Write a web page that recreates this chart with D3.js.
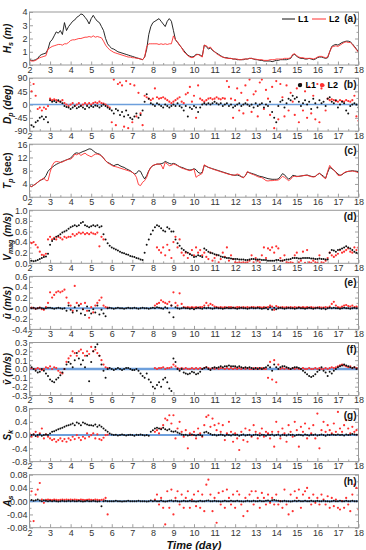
<!DOCTYPE html>
<html><head><meta charset="utf-8">
<script src="https://cdn.jsdelivr.net/npm/d3@7"></script>
<style>body{margin:0;background:#fff}svg{display:block}text{font-family:"Liberation Sans",Arial,sans-serif}</style>
</head><body><svg id="c" width="366" height="550"></svg>
<script>
// sampling: day 2.0 to 18.0 every 0.1 day
const T_START = 2, T_STEP = 0.1;
const X_TICKS = [2,3,4,5,6,7,8,9,10,11,12,13,14,15,16,17,18];

// (a) Hs (m)
const HS_L1 = [
0.4,0.35,0.35,0.4,0.5,0.7,0.8,0.85,0.9,1.2,
1.75,1.9,2.2,2.5,2.4,2.6,2.3,3.2,2.6,2.9,
3.1,3.3,3.4,3.6,3.7,3.85,3.8,3.6,3.4,3.1,
3.5,3.75,3.5,3.3,3.2,2.9,2.6,2.0,1.6,1.4,
1.25,1.2,1.1,1.0,0.95,0.9,0.85,0.8,0.75,0.7,
0.65,0.6,0.55,0.5,0.45,0.4,0.6,1.2,2.3,2.9,
3.2,3.3,3.4,3.5,3.3,3.1,2.9,3.3,3.5,3.3,
2.6,1.9,1.7,1.5,1.3,1.1,0.9,0.75,0.65,0.6,
0.65,0.8,0.8,0.75,0.65,1.5,1.4,1.2,1.3,1.1,
1.0,0.9,0.8,0.7,0.6,0.55,0.55,0.5,0.5,0.45,
0.45,0.4,0.4,0.4,0.4,0.45,0.45,0.5,0.5,0.45,
0.4,0.4,0.35,0.35,0.3,0.3,0.3,0.3,0.25,0.3,
0.35,0.35,0.4,0.4,0.4,0.4,0.45,0.5,0.75,0.8,
0.65,0.55,0.5,0.5,0.45,0.45,0.5,0.45,0.4,0.45,
0.55,0.6,0.6,0.55,0.5,0.55,1.0,1.4,1.5,1.55,
1.5,1.6,1.7,1.75,1.8,1.8,1.75,1.6,1.4,1.2,
1.0];
const HS_L2 = [
0.35,0.3,0.3,0.35,0.45,0.55,0.6,0.65,0.7,1.2,
1.3,1.4,1.45,1.5,1.55,1.55,1.5,1.6,1.6,1.7,
1.85,1.9,1.9,1.95,2.0,2.0,2.05,2.1,2.1,2.15,
2.1,2.2,2.1,2.15,2.1,2.05,1.8,1.5,1.3,1.15,
1.05,0.95,0.9,0.85,0.8,0.75,0.7,0.65,0.6,0.6,
0.55,0.55,0.5,0.5,0.45,0.4,0.6,1.4,1.6,1.6,
1.6,1.6,1.6,1.55,1.6,1.55,1.6,1.55,1.6,1.6,
2.2,1.9,1.75,1.5,1.3,1.0,0.85,0.7,0.6,0.55,
0.6,0.75,0.8,0.7,0.6,1.5,1.45,1.3,1.35,1.15,
1.0,0.85,0.75,0.65,0.6,0.55,0.5,0.5,0.5,0.45,
0.45,0.45,0.4,0.4,0.45,0.45,0.45,0.5,0.5,0.45,
0.45,0.4,0.4,0.4,0.35,0.35,0.35,0.4,0.4,0.4,
0.45,0.45,0.45,0.45,0.5,0.5,0.5,0.55,0.8,0.85,
0.7,0.6,0.55,0.55,0.5,0.5,0.5,0.5,0.45,0.5,
0.6,0.65,0.65,0.6,0.55,0.6,1.0,1.35,1.4,1.45,
1.4,1.5,1.6,1.7,1.75,1.7,1.7,1.55,1.35,1.15,
0.95];

// (b) Dp (deg)
const DP_L1 = [
-20,-70,-75,-60,-55,-45,-40,-50,-42,-60,
15,10,12,8,15,10,5,-5,-8,-10,
-15,-10,-5,-12,-8,-5,-10,-15,-5,-10,
-5,-8,-3,-5,-10,-5,0,-5,-10,-15,
-20,-30,-15,-20,-35,-25,-40,-20,-35,-45,
-50,-40,-30,-45,-35,-20,10,35,20,5,
0,-5,5,0,-5,-10,0,-5,-10,-5,
0,-5,5,-5,-10,-20,-5,-40,-10,-15,
-5,-10,-25,-10,0,5,0,5,0,5,
10,5,0,5,-5,0,5,-5,0,-10,
-5,0,5,-5,0,5,0,-5,0,-10,
5,-5,0,5,-10,0,-5,10,-25,-45,
-60,-5,10,15,-10,5,20,15,30,20,
25,10,-5,5,15,0,10,-15,20,5,
-10,15,5,10,-5,20,25,10,5,15,
-10,0,10,5,-20,-30,-5,0,5,0,
-10];
const DP_L2 = [
75,45,70,30,-15,-10,-20,-10,-15,-5,
20,15,18,15,12,10,15,5,0,-5,
0,5,-5,0,5,-3,0,5,0,5,
0,5,8,5,10,5,3,0,-5,-10,
-60,85,-70,70,75,65,-75,80,-80,70,
-60,65,-40,40,-30,-70,30,25,20,15,
20,55,25,20,22,25,20,15,10,5,
10,15,20,25,10,5,35,40,60,10,
30,-45,65,20,15,10,15,20,22,18,
20,25,20,18,22,20,80,60,20,-45,
15,55,-20,40,-30,65,15,85,-25,35,
45,-40,75,85,-15,50,20,-35,60,-80,
80,-50,70,25,-40,65,-20,40,10,-35,
55,-60,70,-20,45,-45,60,-30,30,-50,
70,-60,55,65,-20,20,15,18,15,12,
10,15,12,10,15,12,10,15,30,-40,
-55];

// (c) Tp (sec)
const TP_L1 = [
3.5,3.2,3.6,4.0,4.5,5.0,5.3,5.6,6.5,7.8,
8.5,9.0,9.5,9.9,10.2,10.5,10.8,11.0,11.3,11.5,
11.8,12.5,13.2,13.4,13.2,13.5,13.8,14.0,14.3,14.6,
14.5,14.0,13.5,13.2,13.0,12.5,11.8,11.0,10.5,10.2,
9.8,9.5,9.8,9.9,9.5,9.2,9.0,8.6,8.3,8.0,
7.5,7.0,7.2,8.0,7.8,6.5,5.5,6.5,8.0,9.0,
9.5,9.8,10.0,10.0,10.1,10.3,10.8,10.5,10.2,10.0,
10.2,10.0,9.6,9.2,9.0,8.8,8.5,8.3,8.2,8.3,
8.6,8.3,7.5,7.2,7.5,9.6,9.3,9.0,8.8,8.6,
8.4,8.2,8.0,7.8,7.6,7.4,7.2,7.0,6.8,6.7,
6.6,6.7,6.5,6.2,6.0,6.5,7.6,7.4,7.2,7.0,
6.8,6.5,6.3,6.2,6.0,5.8,5.6,5.5,5.4,5.4,
5.4,5.5,6.2,7.1,6.8,6.0,5.5,5.8,6.6,6.5,
6.3,6.3,6.4,6.5,6.6,6.7,6.5,6.3,6.2,6.3,
6.8,7.2,6.8,6.3,5.7,7.5,9.0,8.6,8.2,7.6,
7.0,6.6,6.8,7.3,7.6,7.8,7.9,8.0,7.9,7.8,
7.6];
const TP_L2 = [
3.5,3.2,3.6,4.0,4.5,5.0,5.4,5.8,5.0,5.0,
7.5,9.5,10.5,10.8,10.7,10.5,10.6,11.0,11.2,11.5,
11.5,12.0,13.0,12.8,13.2,12.6,13.0,13.3,12.8,12.5,
12.2,12.6,13.0,13.0,12.8,12.5,11.8,11.0,10.4,10.0,
9.6,9.3,9.2,9.0,8.8,8.6,8.4,8.2,8.0,7.8,
7.5,7.0,6.0,3.8,3.5,4.5,5.0,6.0,7.8,9.0,
9.6,9.8,10.0,10.0,9.8,8.5,10.5,10.0,9.5,9.6,
10.0,9.8,9.5,9.2,8.8,8.6,8.4,8.2,8.0,8.2,
8.5,6.0,6.5,6.8,7.2,9.8,9.4,9.0,8.8,8.5,
8.3,8.1,7.9,7.7,7.5,7.3,7.1,6.9,6.8,6.6,
6.7,7.0,6.8,6.2,5.8,6.5,7.8,7.3,7.0,6.8,
6.5,6.2,6.0,5.9,5.5,5.0,4.9,5.0,5.0,5.1,
5.1,5.2,5.6,6.3,6.0,5.5,5.0,5.4,6.2,6.3,
6.2,6.3,6.4,6.5,6.6,6.6,6.4,6.2,6.1,6.2,
6.9,7.2,6.6,6.0,5.6,7.8,9.6,8.8,8.2,7.5,
6.6,6.5,6.9,7.4,7.7,7.8,7.8,7.9,7.8,7.6,
7.3];

// (d) Vmag (m/s)
const VM_L1 = [
0.05,0.05,0.04,0.05,0.06,0.08,0.1,0.12,0.13,0.18,
0.35,0.42,0.46,0.5,0.52,0.55,0.58,0.6,0.62,0.65,
0.68,0.7,0.72,0.7,0.72,0.76,0.78,0.72,0.7,0.68,
0.7,0.72,0.7,0.72,0.68,0.7,0.55,0.45,0.38,0.33,
0.3,0.28,0.26,0.24,0.22,0.2,0.19,0.17,0.16,0.14,
0.13,0.12,0.1,0.09,0.07,0.06,0.2,0.35,0.45,0.55,
0.62,0.68,0.72,0.7,0.66,0.62,0.6,0.68,0.65,0.6,
0.6,0.45,0.38,0.33,0.28,0.25,0.22,0.2,0.17,0.15,
0.12,0.13,0.15,0.14,0.12,0.28,0.25,0.22,0.2,0.19,
0.17,0.16,0.15,0.13,0.12,0.11,0.1,0.1,0.09,0.08,
0.08,0.08,0.07,0.07,0.07,0.06,0.06,0.07,0.08,0.08,
0.07,0.07,0.07,0.06,0.06,0.06,0.05,0.05,0.05,0.05,
0.06,0.06,0.05,0.05,0.06,0.07,0.07,0.08,0.1,0.1,
0.1,0.09,0.09,0.1,0.1,0.1,0.1,0.09,0.09,0.08,
0.08,0.09,0.08,0.08,0.07,0.07,0.2,0.25,0.24,0.22,
0.25,0.26,0.28,0.3,0.32,0.3,0.28,0.25,0.22,0.2,
0.18];
const VM_L2 = [
0.4,0.38,0.4,0.35,0.3,0.22,0.16,0.15,0.18,0.45,
0.5,0.45,0.48,0.45,0.5,0.48,0.45,0.5,0.48,0.5,
0.5,0.55,0.52,0.55,0.58,0.56,0.58,0.55,0.57,0.55,
0.58,0.56,0.55,0.58,0.32,0.5,0.45,null,null,null,
null,null,null,null,null,null,null,null,null,null,
null,null,null,null,null,null,null,null,null,null,
null,null,0.3,0.25,0.2,0.3,0.15,0.35,0.25,0.1,
0.4,0.5,0.3,0.45,0.2,0.15,0.2,0.1,0.18,0.25,
0.15,0.3,0.2,0.25,0.15,0.2,0.12,0.08,0.2,0.05,
0.1,0.15,0.02,0.08,0.2,0.12,0.3,0.05,0.15,0.08,
0.02,0.01,0.02,0.01,0.02,0.01,0.02,0.05,0.15,0.02,
0.1,0.05,0.02,0.15,0.3,0.1,0.28,0.25,0.3,0.2,
0.32,0.28,0.1,0.05,0.15,0.02,0.01,0.02,0.01,0.15,
0.2,0.02,0.05,0.22,0.01,0.25,0.02,0.01,0.05,0.02,
0.01,0.15,0.02,0.01,0.05,0.1,0.2,0.15,0.12,0.15,
0.18,0.25,0.2,0.22,0.25,0.28,0.22,0.2,0.3,0.25,
0.3];

// (e) u mean (m/s)
const U_L1 = [
0.01,0,0.01,-0.01,0,0.01,0,-0.01,0,0.01,
0.01,0,-0.01,0,0.01,0,-0.01,0,-0.05,0.05,
-0.03,-0.08,0.02,-0.05,0.05,-0.1,-0.02,-0.13,0.03,-0.05,
-0.1,-0.02,-0.08,0.05,-0.12,-0.03,-0.1,-0.15,0,0.01,
0,-0.01,0,0.01,0,0,-0.01,0,0.01,0,
0,0.01,0,-0.01,0,0.01,0,0,-0.01,0,
0.01,0,0.02,0.01,0,-0.01,0.02,0,-0.08,0.05,
-0.17,0.02,0,-0.01,0,0.01,0,0,-0.01,0,
-0.02,0,0.01,0,-0.01,0.01,0,0.01,0,-0.01,
0,0.01,0,0,-0.01,0,0.01,0,0,0.01,
0,-0.01,0,0.01,0,0,-0.01,0,0.01,0,
0,0.01,0,-0.01,0,0.01,-0.02,0.02,-0.03,0.01,
-0.02,0,0.01,0,-0.01,0,0.01,0,0,-0.01,
0,0.01,0,0,-0.01,0,0.01,0,-0.01,0,
0.01,0,-0.01,0,-0.02,0,0.01,0,0.01,0,
0,-0.01,0,0.01,0,0,-0.01,0,0.01,0,
0];
const U_L2 = [
0,0.01,0,-0.01,0,0.01,-0.02,-0.03,0.02,0.1,
0.3,0.2,0.25,0.3,0.32,0.3,0.32,0.35,0.2,0.1,
0.05,-0.05,0.42,0.1,0.05,0.08,-0.02,0.1,-0.05,-0.18,
0.02,-0.08,0.05,0.1,0.15,0.2,0.05,0.02,0.01,null,
null,null,null,null,null,null,null,null,null,null,
null,null,null,null,null,null,null,null,null,null,
null,0.05,0.08,0.1,0.15,0.12,0.1,0.08,0.12,0.05,
0.3,0.1,0.05,0.28,0.08,0.02,0.01,0.02,0.01,0.02,
0.01,0.02,0.01,0.02,0.02,0.05,0.1,0.05,0.08,0.06,
0.03,0.02,0.01,0.02,0.01,0.02,0.01,0.02,0.02,0.01,
0.01,0.02,0.02,0.01,0.02,0.01,0.02,0.01,0.02,0.02,
0.01,0.02,0.02,0.01,0.02,0.01,0.02,0.05,0.03,-0.03,
0.04,0.02,0.01,0.02,0.01,0.02,0.01,0.02,0.01,0.02,
0.01,0.02,0.01,0.02,0.01,0.02,0.01,0.02,0.01,0.01,
0.01,0.02,0.01,0.01,0.02,0.01,0.03,0.08,0.12,0.05,
0.02,0.01,0.03,0.05,0.06,0.04,0.03,0.05,0.02,0.03,
0.02];

// (f) v mean (m/s)
const V_L1 = [
0.04,0.02,0,-0.02,-0.04,-0.03,0,-0.02,-0.05,-0.08,
-0.12,-0.14,-0.15,-0.12,-0.1,-0.07,-0.04,0,0.05,0.08,
0.06,0.02,0.1,0.18,0.12,0.05,0.1,0.02,0.15,-0.14,
0.08,0.2,0.25,0.28,0.15,0.05,-0.02,-0.1,0,0.01,
0,-0.01,0,0.01,0,-0.01,0,0.01,0.01,0,
-0.01,-0.01,0,-0.02,-0.05,-0.08,-0.1,-0.05,-0.12,-0.15,
-0.2,-0.22,-0.18,-0.15,-0.2,-0.12,-0.1,-0.15,-0.22,-0.25,
0.12,0.08,0,-0.02,0,-0.04,-0.05,-0.06,-0.05,-0.03,
-0.04,-0.06,-0.05,-0.03,0,0.01,0.02,0,-0.01,0.01,
0.02,0.01,0.02,0.03,0.02,0.03,0.03,0.04,0.03,0.03,
0.03,0.02,0.03,0.02,0.01,0.02,0.01,0.02,0.01,0,
0.01,0,0.01,0,0.01,0.02,0.04,0.02,-0.02,0.05,
0.02,0,0.02,0.03,0.03,0.02,0.01,0,0.01,0.02,
0.02,0.01,0,-0.02,-0.04,-0.06,-0.08,-0.09,-0.08,-0.06,
-0.03,-0.01,0.02,-0.02,-0.04,-0.08,-0.03,-0.05,-0.02,0,
0.02,0.03,0.04,0.05,0.04,0.03,0.02,0.01,0.02,0,
0.01];
const V_L2 = [
0,0.01,0,0,0.01,0,-0.01,0,0.02,0.01,
0.03,0,0.02,0.01,-0.02,-0.04,-0.05,0,0.08,0.12,
0.15,0.2,0.18,0.15,0.2,0.22,0.18,0.15,0.2,0.17,
0.25,0.2,0.22,0.18,0.15,0.1,0.05,0.02,0.01,null,
null,null,null,null,null,null,null,null,null,null,
null,null,null,null,null,null,null,null,null,null,
null,0.01,0,0.01,0.01,0.02,0,0.01,0.01,0.02,
0.05,0.03,0.01,0,0.01,0,0.01,0,0,0.01,
0,0.01,0,0.01,0,0.01,0.02,0.01,0,0.01,
0,0.01,0,0.01,0.01,0,0.01,0,0.01,0,
0.01,0,0.01,0,0.01,0,0.01,0,0,0.01,
0,0.01,0,0.01,0,0,-0.1,0.08,-0.12,0.1,
-0.15,0.05,0,0.01,0,0.01,0,0,0.01,0,
0.01,0,0,0.01,0,0,0.01,0,0,0.01,
0,0.01,0,0,0.01,0,0.01,0.02,0.01,0.02,
0.03,0.04,0.05,0.04,0.03,0.02,0.03,0.01,0.02,0.01,
0];

// (g) Sk
const SK_L1 = [
-0.05,0,0.02,-0.03,0,0.02,-0.02,0,0.02,0,
0.05,0.1,0.12,0.15,0.18,0.2,0.22,0.25,0.28,0.3,
0.32,0.35,0.3,0.38,0.35,0.3,0.38,0.35,0.32,0.3,
0.3,0.28,0.32,0.25,0.3,0.25,0.2,0.15,0.1,0.05,
0.02,0,0.01,-0.01,0,0.02,0,-0.01,0,0.01,
0,-0.02,0.01,0,0.02,0,-0.01,0,-0.02,0.1,
0.15,0.2,0.22,0.2,0.18,0.22,0.18,0.15,0.18,0.12,
0.1,0.12,0.08,0.05,0.02,0,0.01,-0.01,0,0.02,
0,-0.01,0.01,0,-0.02,0.08,0.1,0.06,0.03,0,
0.01,-0.01,0,0.02,0,-0.02,0.01,0,-0.01,0.02,
0,0.01,-0.02,0,0.02,-0.01,0,0.01,-0.02,0,
0.02,0,-0.01,0.01,0,-0.02,0.01,0,0.02,-0.01,
0,0.02,-0.02,0.01,0,-0.01,0.02,0,0.01,-0.02,
0,0.01,0,-0.01,0.02,0,-0.01,0.01,0,0.02,
-0.01,0,0.02,0,-0.02,0.01,0,0.02,0.01,0,
0.02,0,0.01,-0.01,0.02,0,0.01,0.03,0.02,0.01,
0.02];
const SK_L2 = [
0.05,-0.05,0.02,0.1,-0.05,0.05,0.2,-0.1,0.02,-0.05,
-0.1,-0.15,-0.12,-0.2,-0.15,-0.1,-0.18,-0.12,-0.2,-0.1,
-0.15,-0.05,-0.12,0,-0.08,-0.15,-0.05,-0.1,0.05,-0.05,
0,0.05,-0.1,0.02,-0.12,-0.15,-0.08,0,0.01,null,
null,null,null,null,null,null,null,null,null,null,
null,null,null,null,null,null,null,null,null,null,
null,0.1,0.15,0.05,0.2,0.3,0.5,0.45,0.6,0.35,
0.6,-0.1,0.2,0.4,0.1,-0.05,0.15,-0.4,0.05,0,
0.1,-0.1,0.2,0.05,-0.05,0.3,0.55,0.6,0.25,0.5,
0.3,0.15,0.35,0.1,0.3,-0.15,0.05,0.4,0.1,-0.2,
0.05,-0.1,-0.45,0.1,-0.15,0.2,-0.2,0.15,-0.05,0.3,
0.1,-0.1,0.05,0.2,-0.05,0.1,0.05,-0.1,0.1,-0.35,
0.4,0.1,-0.1,0.2,0.05,-0.2,0.3,0.1,-0.05,0.4,
0.15,-0.35,0.25,0.1,0.35,-0.1,0.2,0.05,0.3,-0.1,
0.65,-0.4,0.15,0.4,0.1,0.3,0.15,0.05,0.35,0.1,
0.7,0.2,0.1,0.3,0.45,0.2,0.05,0.25,0.1,0.15,
0];

// (h) As
const AS_L1 = [
0.002,0.004,0.001,0.003,0.005,0.002,0,0.003,0.001,0,
0.001,0,0.001,0,-0.001,0,0.001,0,0,0.001,
0,0.001,0,0,0.001,0,-0.001,0,0.001,0,
0,0.001,0,-0.001,0,-0.015,0,0.001,0,0,
0,0,0.001,0,0,-0.001,0,0,0.001,0,
0,0,0,0.001,0,0,0,-0.001,0,0.002,
0,0.001,0,0,0.002,0,-0.001,0,0.001,0.002,
0,0.001,0,-0.001,0,0.001,0,0,0.001,0,
0,-0.001,0,0.001,0,0,0.001,0.002,0,0,
0.001,0,0,-0.001,0,0.001,0,0,0.001,0,
0,0.001,0,0,-0.001,0,0.001,0,0,0.001,
0,0,0.001,0,0,0.001,0.002,0,0.003,0.004,
0.002,0.001,0,0,0.001,0,0,-0.001,0,0.001,
0,0.001,0,0,0.001,0,0,0.001,0,0,
0.001,0,0,0.001,0,0,-0.001,0,0.001,0,
0,0.001,0,0,0.001,0,0,0.001,0,0,
0];
const AS_L2 = [
-0.06,0.03,-0.06,0.02,0.035,0.055,0.005,-0.005,0.004,0.005,
0.004,0.003,0.005,0.004,0.003,0.004,0.005,0.004,0.005,0.004,
0.005,0.004,0.005,0.004,0.003,0.005,0.004,0.003,0.004,0.005,
0.004,0.003,0.005,0.004,0.003,0.004,0.005,0.01,-0.04,null,
null,null,null,null,null,null,null,null,null,null,
null,null,null,null,null,null,null,null,null,null,
null,0.005,0.02,-0.01,0.01,-0.02,-0.07,0.03,-0.02,0.035,
-0.04,0.01,0.03,-0.01,0.02,-0.02,0.01,0.03,-0.02,0.005,
0.02,-0.015,0.03,-0.02,0.02,-0.03,0.05,0.065,0.02,-0.03,
0.01,-0.065,0.025,-0.01,0.03,-0.02,0.035,0.01,-0.01,0.02,
-0.02,0.03,0.02,-0.01,-0.045,0.01,-0.03,0.02,0.03,-0.01,
0.03,0.01,-0.02,0.025,0.01,-0.01,0.02,-0.005,0.01,-0.01,
0.02,-0.01,0,-0.02,0.035,-0.01,-0.04,0.02,-0.03,0.03,
0.01,0.035,-0.02,0.02,0.03,0.04,0.01,-0.01,0.02,-0.005,
0.01,-0.01,0.02,0.005,-0.01,0.015,-0.02,0.01,-0.015,0.005,
-0.02,-0.025,0,-0.02,0.01,-0.01,-0.03,0.02,0.05,0.04,
-0.025];

// y tick labels
const TICKS_A = [0,1,2,3,4];
const TICKS_B = [-90,-45,0,45,90];
const TICKS_C = [0,4,8,12,16];
const TICKS_D = [0,0.2,0.4,0.6,0.8,1.0];
const TICKS_E = [-0.4,-0.2,0,0.2,0.4,0.6];
const TICKS_F = [-0.3,-0.2,-0.1,0,0.1,0.2,0.3];
const TICKS_G = [-0.8,-0.4,0,0.4,0.8];
const TICKS_H = [-0.08,-0.04,0,0.04,0.08];

const time = d3.range(HS_L1.length).map(i => +(T_START + i * T_STEP).toFixed(2));

const C1 = "#111", C2 = "#ff3030", BLUE = "#6d9fdc";
const svg = d3.select("#c");
const L = 29.5, R = 358.5, TOP0 = 12, PITCH = 66.1, H = 53;
const x = d3.scaleLinear().domain([2, 18]).range([L, R]);

const panels = [
  {tag:"(a)", kind:"line", dom:[0,4], ticks:TICKS_A, dec:0, l1:HS_L1, l2:HS_L2, lab:[["H",0],["s",1],[" (m)",0]], legend:"line"},
  {tag:"(b)", kind:"dot", dom:[-90,90], ticks:TICKS_B, dec:0, l1:DP_L1, l2:DP_L2, lab:[["D",0],["p",1],[" (deg)",0]], legend:"dot", zero:true, zw:1.5},
  {tag:"(c)", kind:"line", dom:[0,16], ticks:TICKS_C, dec:0, l1:TP_L1, l2:TP_L2, lab:[["T",0],["p",1],[" (sec)",2]]},
  {tag:"(d)", kind:"dot", dom:[0,1], ticks:TICKS_D, dec:1, l1:VM_L1, l2:VM_L2, lab:[["V",0],["mag",1],[" (m/s)",0]]},
  {tag:"(e)", kind:"dot", dom:[-0.4,0.6], ticks:TICKS_E, dec:1, l1:U_L1, l2:U_L2, lab:[["\u016B (m/s)",0]], zero:true, zw:2},
  {tag:"(f)", kind:"dot", dom:[-0.3,0.3], ticks:TICKS_F, dec:1, l1:V_L1, l2:V_L2, lab:[["v\u0304 (m/s)",0]], zero:true, zw:2.5},
  {tag:"(g)", kind:"dot", dom:[-0.8,0.8], ticks:TICKS_G, dec:1, l1:SK_L1, l2:SK_L2, lab:[["S",0],["k",1]], zero:true, zw:2},
  {tag:"(h)", kind:"dot", dom:[-0.08,0.08], ticks:TICKS_H, dec:2, l1:AS_L1, l2:AS_L2, lab:[["A",0],["s",1]], zero:true, zw:2}
];

panels.forEach((p, i) => {
  const top = TOP0 + i * PITCH, bot = top + H;
  const y = d3.scaleLinear().domain(p.dom).range([bot, top]);
  const g = svg.append("g");
  const clipId = "clip" + i;
  svg.append("clipPath").attr("id", clipId).append("rect")
    .attr("x", L).attr("y", top).attr("width", R - L).attr("height", H);

  const minorY = d3.pairs(p.ticks).map(([a, b]) => (a + b) / 2);
  const minorX = d3.pairs(X_TICKS).map(([a, b]) => (a + b) / 2);
  const fmt = d => (Math.abs(d) < 1e-9 ? 0 : d).toFixed(p.dec);

  g.append("g").attr("transform", `translate(0,${bot})`)
    .call(d3.axisBottom(x).tickValues(X_TICKS).tickFormat(d => d).tickSizeInner(-3.5).tickSizeOuter(0).tickPadding(1.5));
  g.append("g").attr("transform", `translate(0,${bot})`)
    .call(d3.axisBottom(x).tickValues(minorX).tickFormat("").tickSizeInner(-2).tickSizeOuter(0));
  g.append("g").attr("transform", `translate(${L},0)`)
    .call(d3.axisLeft(y).tickValues(p.ticks).tickFormat(fmt).tickSizeInner(-3.5).tickSizeOuter(0).tickPadding(2));
  g.append("g").attr("transform", `translate(${L},0)`)
    .call(d3.axisLeft(y).tickValues(minorY).tickFormat("").tickSizeInner(-2).tickSizeOuter(0));
  g.append("g").attr("transform", `translate(${R},0)`)
    .call(d3.axisRight(y).tickValues(p.ticks).tickFormat("").tickSizeInner(-3.5).tickSizeOuter(0));
  g.append("g").attr("transform", `translate(${R},0)`)
    .call(d3.axisRight(y).tickValues(minorY).tickFormat("").tickSizeInner(-2).tickSizeOuter(0));
  g.selectAll(".domain").remove();
  g.selectAll(".tick line").attr("stroke", "#888").attr("stroke-width", 0.8);
  g.selectAll(".tick text").attr("fill", "#333").style("font-size", "9px").style("font-family", '"Liberation Sans",Arial,sans-serif');

  const plot = g.append("g").attr("clip-path", `url(#${clipId})`);
  if (p.zero) {
    plot.append("line").attr("x1", L).attr("x2", R).attr("y1", y(0)).attr("y2", y(0))
      .attr("stroke", BLUE).attr("stroke-width", p.zw);
  }
  const pts = arr => time.map((t, k) => ({t, v: arr[k]})).filter(d => d.v !== null && d.v !== undefined);
  if (p.kind === "line") {
    const line = d3.line().x(d => x(d.t)).y(d => y(d.v));
    plot.append("path").datum(pts(p.l1)).attr("d", line).attr("fill", "none").attr("stroke", C1).attr("stroke-width", 0.9);
    plot.append("path").datum(pts(p.l2)).attr("d", line).attr("fill", "none").attr("stroke", C2).attr("stroke-width", 0.9);
  } else {
    plot.selectAll(null).data(pts(p.l2)).join("circle")
      .attr("cx", d => x(d.t)).attr("cy", d => y(d.v)).attr("r", 1.1).attr("fill", C2);
    plot.selectAll(null).data(pts(p.l1)).join("circle")
      .attr("cx", d => x(d.t)).attr("cy", d => y(d.v)).attr("r", 1.0).attr("fill", C1);
  }

  g.append("rect").attr("x", L).attr("y", top).attr("width", R - L).attr("height", H)
    .attr("fill", "none").attr("stroke", "#999").attr("stroke-width", 1);

  g.append("text").attr("x", R - 2).attr("y", top + 10).attr("text-anchor", "end")
    .style("font-size", "10px").style("font-weight", "bold").attr("fill", "#111").text(p.tag);

  if (p.legend === "line") {
    const ly = top + 7;
    g.append("line").attr("x1", 282).attr("x2", 295).attr("y1", ly).attr("y2", ly).attr("stroke", C1).attr("stroke-width", 1);
    g.append("text").attr("x", 298).attr("y", ly + 3.2).style("font-size", "9px").style("font-weight", "bold").text("L1");
    g.append("line").attr("x1", 312).attr("x2", 326).attr("y1", ly).attr("y2", ly).attr("stroke", C2).attr("stroke-width", 1);
    g.append("text").attr("x", 329).attr("y", ly + 3.2).style("font-size", "9px").style("font-weight", "bold").text("L2");
  } else if (p.legend === "dot") {
    const ly = top + 7;
    g.append("circle").attr("cx", 300).attr("cy", ly).attr("r", 2.2).attr("fill", C1);
    g.append("text").attr("x", 305.5).attr("y", ly + 3.2).style("font-size", "9px").style("font-weight", "bold").text("L1");
    g.append("circle").attr("cx", 322).attr("cy", ly).attr("r", 2.2).attr("fill", C2);
    g.append("text").attr("x", 327.5).attr("y", ly + 3.2).style("font-size", "9px").style("font-weight", "bold").text("L2");
  }

  const t = svg.append("text").attr("transform", `translate(10.5,${top + H / 2}) rotate(-90)`)
    .attr("text-anchor", "middle").style("font-size", "10px").style("font-weight", "bold").attr("fill", "#111");
  let prevSub = false;
  p.lab.forEach(([s, mode]) => {
    const ts = t.append("tspan").text(s);
    if (mode === 1) { ts.attr("dy", 2.5).style("font-size", "7px").style("font-style", "italic"); prevSub = true; }
    else {
      if (prevSub) ts.attr("dy", -2.5);
      prevSub = false;
      ts.style("font-style", mode === 2 ? "normal" : "italic");
    }
  });
});

svg.append("text").attr("x", (L + R) / 2).attr("y", 548.5).attr("text-anchor", "middle")
  .style("font-size", "11px").style("font-weight", "bold").style("font-style", "italic").attr("fill", "#111")
  .text("Time (day)");
</script></body></html>
